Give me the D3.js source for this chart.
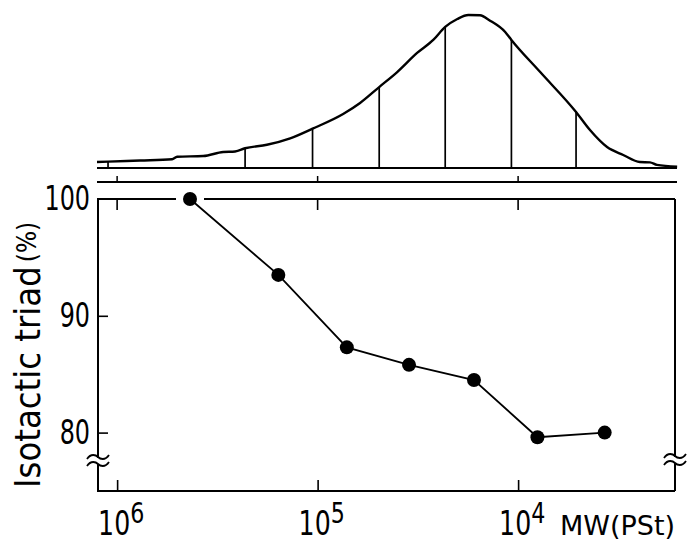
<!DOCTYPE html>
<html>
<head>
<meta charset="utf-8">
<script src="https://cdn.jsdelivr.net/npm/d3@7"></script>
<style>
  html, body { margin: 0; padding: 0; background: #fff; }
  svg { display: block; }
  .num { font-family: "DejaVu Sans Condensed", "DejaVu Sans", sans-serif; }
  .lbl { font-family: "DejaVu Sans Condensed", "DejaVu Sans", sans-serif; }
  .unit { font-family: "DejaVu Sans", sans-serif; }
</style>
</head>
<body>
<svg id="chart" width="687" height="542"></svg>
<script>
// GPC trace of the polystyrene-calibrated molecular weight distribution
const curveMW = [1.26e6, 1.11e6, 7.67e5, 5.32e5, 5.02e5, 3.72e5, 2.96e5, 2.58e5, 2.30e5,
  1.79e5, 1.37e5, 1.06e5, 7.46e4, 6.14e4, 4.93e4, 4.01e4, 3.19e4, 2.65e4, 2.31e4, 2.01e4,
  1.77e4, 1.55e4, 1.38e4, 1.16e4, 1.08e4, 7.76e3, 5.14e3, 4.38e3, 3.60e3, 2.99e3, 2.47e3,
  2.20e3, 2.03e3, 1.61e3];
const curveIntensity = [3.9, 4.2, 4.9, 5.7, 7.4, 7.8, 10.5, 10.8, 12.9,
  15.2, 19.4, 25.7, 35.3, 42.5, 52.9, 62.7, 75.2, 83.7, 92.2, 97.4,
  100, 99.8, 96.3, 88.9, 83.7, 62.7, 36.6, 24.8, 13.7, 8.5, 3.9,
  3.7, 2.0, 0.8];

// Fraction boundaries cut from the trace
const cutMW = [1.11e6, 2.30e5, 1.06e5, 4.93e4, 2.31e4, 1.08e4, 5.14e3];

// Isotactic triad content of each fraction
const fractionMW = [4.33e5, 1.57e5, 7.15e4, 3.50e4, 1.66e4, 8.01e3, 3.70e3];
const isotacticTriad = [100.0, 93.5, 87.3, 85.8, 84.5, 79.6, 80.0];

const xTickValues = [1e6, 1e5, 1e4];
const xTickExponents = ["6", "5", "4"];
const yTickValues = [100, 90, 80];

const svg = d3.select("#chart");

const x = d3.scaleLog().domain([1.26e6, 1.65e3]).range([97, 675]);
const y = d3.scaleLinear().domain([75, 100]).range([491, 199]);
const yTrace = d3.scaleLinear().domain([0, 100]).range([168, 15]);

const [x0, x1] = x.range();
const [yBottom, yFrameTop] = y.range();

// ---------- distribution trace ----------
const traceGroup = svg.append("g");

traceGroup.append("line")
  .attr("x1", x0).attr("x2", x1 + 2)
  .attr("y1", yTrace(0)).attr("y2", yTrace(0))
  .attr("stroke", "#000").attr("stroke-width", 2.2);

// intensity of the trace at a given MW (interpolated in log MW)
function traceAt(mw) {
  const lm = Math.log10(mw);
  for (let i = 0; i < curveMW.length - 1; i++) {
    const a = Math.log10(curveMW[i]), b = Math.log10(curveMW[i + 1]);
    if (lm <= a && lm >= b) {
      const t = (a - lm) / (a - b);
      return curveIntensity[i] + t * (curveIntensity[i + 1] - curveIntensity[i]);
    }
  }
  return 0;
}

traceGroup.selectAll("line.cut")
  .data(cutMW)
  .join("line")
  .attr("class", "cut")
  .attr("x1", d => x(d)).attr("x2", d => x(d))
  .attr("y1", yTrace(0)).attr("y2", d => yTrace(traceAt(d)))
  .attr("stroke", "#000").attr("stroke-width", 1.7);

const traceLine = d3.line()
  .x((d, i) => x(curveMW[i]))
  .y(d => yTrace(d))
  .curve(d3.curveMonotoneX);

traceGroup.append("path")
  .datum(curveIntensity)
  .attr("d", traceLine)
  .attr("fill", "none")
  .attr("stroke", "#000")
  .attr("stroke-width", 2.4);

// ---------- broken axis line between panels ----------
const gapY = 182;
svg.append("line")
  .attr("x1", x0).attr("x2", x1 + 2)
  .attr("y1", gapY).attr("y2", gapY)
  .attr("stroke", "#000").attr("stroke-width", 2);
svg.selectAll("line.gaptick")
  .data(xTickValues)
  .join("line")
  .attr("class", "gaptick")
  .attr("x1", d => x(d)).attr("x2", d => x(d))
  .attr("y1", gapY).attr("y2", gapY - 6)
  .attr("stroke", "#000").attr("stroke-width", 1.5);

// ---------- lower panel frame ----------
const frame = svg.append("g");
const firstX = x(fractionMW[0]);

// top edge, opened around the first point
frame.append("line")
  .attr("x1", x0).attr("x2", firstX - 14)
  .attr("y1", yFrameTop).attr("y2", yFrameTop)
  .attr("stroke", "#000").attr("stroke-width", 2);
frame.append("line")
  .attr("x1", firstX + 14).attr("x2", x1)
  .attr("y1", yFrameTop).attr("y2", yFrameTop)
  .attr("stroke", "#000").attr("stroke-width", 2);

// bottom axis
const xAxisBottom = d3.axisTop(x).tickValues(xTickValues).tickSize(11).tickFormat("");
frame.append("g")
  .attr("transform", `translate(0,${yBottom})`)
  .call(xAxisBottom)
  .call(g => g.select(".domain").attr("stroke-width", 2).attr("d", `M${x0},0H${x1}`))
  .call(g => g.selectAll(".tick line").attr("stroke-width", 1.6));

// top-edge ticks pointing inward
frame.selectAll("line.toptick")
  .data(xTickValues)
  .join("line")
  .attr("class", "toptick")
  .attr("x1", d => x(d)).attr("x2", d => x(d))
  .attr("y1", yFrameTop).attr("y2", yFrameTop + 11)
  .attr("stroke", "#000").attr("stroke-width", 1.6);

// left axis
const yAxis = d3.axisRight(y).tickValues([90, 80]).tickSize(10).tickFormat("");
frame.append("g")
  .attr("transform", `translate(${x0 + 1},0)`)
  .call(yAxis)
  .call(g => g.select(".domain").attr("stroke-width", 2).attr("d", `M0,${yFrameTop}V${yBottom}`))
  .call(g => g.selectAll(".tick line").attr("stroke-width", 1.6));

// right axis
frame.append("line")
  .attr("x1", x1).attr("x2", x1)
  .attr("y1", yFrameTop).attr("y2", yBottom)
  .attr("stroke", "#000").attr("stroke-width", 2);

// axis break marks
function breakMark(cx, cy) {
  const g = svg.append("g").attr("transform", `translate(${cx},${cy})`);
  g.append("rect").attr("x", -4).attr("y", -3).attr("width", 8).attr("height", 6).attr("fill", "#fff");
  const wave = "M-11,1 C-7,-5 -2,-3 0,-1 S7,3 11,-3";
  g.append("path").attr("d", wave).attr("transform", "translate(0,-3)")
    .attr("fill", "none").attr("stroke", "#000").attr("stroke-width", 1.8);
  g.append("path").attr("d", wave).attr("transform", "translate(0,4)")
    .attr("fill", "none").attr("stroke", "#000").attr("stroke-width", 1.8);
}
breakMark(x0 + 1, 461);
breakMark(x1, 460);

// ---------- isotactic triad series ----------
const triadLine = d3.line()
  .x((d, i) => x(fractionMW[i]))
  .y(d => y(d));

svg.append("path")
  .datum(isotacticTriad)
  .attr("d", triadLine)
  .attr("fill", "none")
  .attr("stroke", "#000")
  .attr("stroke-width", 1.8);

svg.selectAll("circle.pt")
  .data(isotacticTriad)
  .join("circle")
  .attr("class", "pt")
  .attr("cx", (d, i) => x(fractionMW[i]))
  .attr("cy", d => y(d))
  .attr("r", 7)
  .attr("fill", "#000");

// ---------- labels (narrow numerals) ----------
svg.selectAll("text.ytick")
  .data(yTickValues)
  .join("text")
  .attr("class", "ytick num")
  .attr("transform", d => `translate(90,${y(d) + 11}) scale(0.78,1)`)
  .attr("text-anchor", "end")
  .attr("font-size", 34)
  .text(d => d);

const xl = svg.selectAll("text.xtick")
  .data(xTickValues)
  .join("text")
  .attr("class", "xtick num")
  .attr("transform", d => `translate(${x(d) - 19},535) scale(0.85,1)`)
  .attr("font-size", 33);
xl.append("tspan").text("10");
xl.append("tspan").attr("font-size", 29).attr("dy", -12).text((d, i) => xTickExponents[i]);

svg.append("text")
  .attr("class", "unit")
  .attr("x", 560).attr("y", 535)
  .attr("font-size", 27)
  .text("MW(PSt)");

const yTitle = svg.append("text")
  .attr("class", "lbl")
  .attr("transform", "translate(40,488) rotate(-90)")
  .attr("font-size", 36);
yTitle.append("tspan").text("Isotactic triad");
yTitle.append("tspan").attr("font-size", 26).attr("dx", 4).attr("dy", -4).text("(%)");
</script>
</body>
</html>
